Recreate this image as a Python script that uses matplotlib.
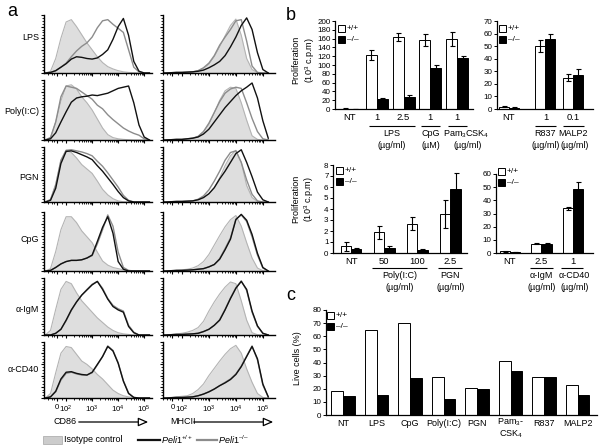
import numpy as np
import matplotlib
matplotlib.use('Agg')
import matplotlib.pyplot as plt
from matplotlib.patches import Rectangle, FancyArrowPatch
from matplotlib.lines import Line2D
from matplotlib.transforms import offset_copy

plt.rcParams['font.family'] = ['Liberation Sans', 'DejaVu Sans']
plt.rcParams['mathtext.fontset'] = 'custom'
plt.rcParams['mathtext.rm'] = 'Liberation Sans'
plt.rcParams['mathtext.it'] = 'Liberation Sans:italic'
plt.rcParams['mathtext.bf'] = 'Liberation Sans:bold'

# ---------------- data: panel a (flow histograms, % of mode) ----------------
grid = [1.2, 1.4, 1.6, 1.8, 2.0, 2.2, 2.4, 2.6, 2.8, 3.0, 3.2, 3.4, 3.6, 3.8, 4.0, 4.2, 4.4, 4.6, 4.8, 5.0, 5.2]
stimuli = ['LPS', 'Poly(I:C)', 'PGN', 'CpG', 'α-IgM', 'α-CD40']

lps_cd86_iso = [0, 3, 25, 60, 88, 92, 80, 66, 52, 40, 28, 18, 11, 7, 4, 2, 1, 0.5, 0, 0, 0]
lps_cd86_wt = [0, 1, 4, 10, 16, 24, 28, 27, 25, 24, 26, 32, 40, 58, 80, 94, 65, 20, 3, 0, 0]
lps_cd86_ko = [0, 1, 4, 10, 17, 28, 38, 46, 52, 62, 78, 90, 92, 84, 77, 70, 40, 10, 2, 0, 0]
lps_mhc_iso = [0, 0, 0.5, 1, 1, 1.5, 2, 4, 8, 15, 28, 45, 64, 82, 93, 65, 25, 6, 1, 0, 0]
lps_mhc_wt = [0, 0, 0.5, 1, 1, 1.5, 2, 3, 5, 9, 14, 20, 30, 45, 62, 82, 95, 75, 35, 6, 0]
lps_mhc_ko = [0, 0, 0.5, 1, 1, 1.5, 2, 4, 9, 17, 30, 48, 62, 75, 90, 92, 55, 12, 1, 0, 0]

poly_cd86_iso = [0, 4, 30, 65, 90, 92, 85, 72, 62, 50, 35, 20, 9, 4, 2, 1, 0.5, 0, 0, 0, 0]
poly_cd86_wt = [0, 2, 12, 30, 47, 63, 70, 72, 73, 75, 74, 76, 78, 82, 86, 88, 90, 62, 25, 5, 0]
poly_cd86_ko = [0, 4, 30, 72, 90, 88, 86, 80, 74, 68, 58, 52, 42, 34, 27, 20, 15, 11, 8, 2, 0]
poly_mhc_iso = [0, 0, 0.5, 1, 1, 2, 3, 6, 14, 26, 45, 66, 82, 88, 86, 62, 33, 7, 1, 0, 0]
poly_mhc_wt = [0, 0, 0.5, 1, 1, 2, 3, 5, 10, 18, 30, 42, 54, 64, 74, 82, 88, 95, 70, 32, 3]
poly_mhc_ko = [0, 0, 0.5, 1, 1, 2, 3, 6, 14, 28, 46, 64, 78, 85, 88, 86, 62, 36, 14, 2, 0]

pgn_cd86_iso = [0, 5, 33, 75, 94, 90, 80, 68, 60, 52, 38, 23, 13, 6, 2, 0.5, 0, 0, 0, 0, 0]
pgn_cd86_wt = [0, 3, 25, 70, 92, 93, 90, 86, 82, 77, 66, 56, 44, 32, 19, 8, 2, 0, 0, 0, 0]
pgn_cd86_ko = [0, 4, 30, 76, 94, 95, 93, 91, 88, 84, 74, 65, 53, 40, 27, 12, 3, 0, 0, 0, 0]
pgn_mhc_iso = [0, 0, 0.5, 1, 1, 1.5, 2, 4, 8, 15, 26, 44, 66, 84, 94, 72, 30, 8, 1, 0, 0]
pgn_mhc_wt = [0, 0, 0.5, 1, 1, 1.5, 2, 4, 8, 15, 26, 42, 56, 72, 88, 95, 72, 46, 18, 4, 0]
pgn_mhc_ko = [0, 0, 0.5, 1, 1, 1.5, 2, 5, 11, 22, 38, 56, 76, 90, 93, 72, 40, 14, 2, 0, 0]

cpg_cd86_iso = [0, 4, 33, 70, 92, 92, 82, 68, 58, 48, 32, 17, 10, 6, 4, 2, 0.5, 0, 0, 0, 0]
cpg_cd86_wt = [0, 1, 6, 12, 16, 18, 18, 19, 22, 27, 50, 74, 92, 64, 16, 3, 0, 0, 0, 0, 0]
cpg_cd86_ko = [0, 1, 6, 12, 16, 18, 18, 19, 22, 26, 46, 70, 95, 76, 32, 6, 1, 0, 0, 0, 0]
cpg_mhc_iso = [0, 0, 0.5, 1, 2, 3, 5, 9, 16, 28, 44, 60, 75, 87, 94, 76, 48, 22, 5, 0.5, 0]
cpg_mhc_wt = [0, 0, 0.5, 1, 1, 1.5, 2, 3, 4, 7, 11, 20, 36, 54, 87, 96, 86, 62, 30, 6, 0]
cpg_mhc_ko = [0, 0, 0.5, 1, 1, 1.5, 2, 3, 4, 7, 11, 21, 38, 56, 88, 95, 84, 58, 27, 5, 0]

igm_cd86_iso = [0, 8, 45, 80, 94, 90, 74, 60, 50, 40, 30, 22, 14, 8, 4, 2, 1, 0, 0, 0, 0]
igm_cd86_wt = [0, 0, 3, 10, 26, 44, 58, 70, 79, 88, 94, 80, 63, 50, 44, 40, 15, 4, 0, 0, 0]
igm_cd86_ko = [0, 0, 3, 10, 25, 43, 58, 70, 80, 89, 94, 82, 64, 52, 46, 42, 17, 5, 0, 0, 0]
igm_mhc_iso = [0, 0, 1, 2, 3, 5, 8, 13, 24, 42, 58, 72, 84, 93, 90, 60, 26, 4, 0.5, 0, 0]
igm_mhc_wt = [0, 0, 0.5, 1, 1, 1.5, 2, 3, 6, 10, 17, 26, 44, 64, 82, 94, 80, 42, 16, 3, 0]
igm_mhc_ko = [0, 0, 0.5, 1, 1, 1.5, 2, 3, 6, 10, 17, 27, 45, 65, 83, 95, 78, 40, 15, 3, 0]

cd40_cd86_iso = [0, 8, 45, 80, 92, 90, 78, 66, 60, 52, 42, 34, 24, 14, 8, 4, 2, 1, 0, 0, 0]
cd40_cd86_wt = [0, 2, 12, 34, 46, 47, 44, 42, 41, 46, 60, 74, 92, 84, 62, 30, 8, 1, 0, 0, 0]
cd40_cd86_ko = [0, 2, 11, 32, 44, 46, 43, 41, 41, 45, 59, 74, 93, 85, 63, 31, 9, 1, 0, 0, 0]
cd40_mhc_iso = [0, 0, 1, 2, 3, 4, 8, 15, 25, 40, 53, 66, 78, 88, 94, 80, 52, 28, 8, 1, 0]
cd40_mhc_wt = [0, 0, 0.5, 1, 1, 1.5, 2, 4, 7, 11, 16, 22, 27, 33, 42, 56, 74, 92, 70, 25, 2]
cd40_mhc_ko = [0, 0, 0.5, 1, 1, 1.5, 2, 4, 7, 11, 16, 22, 28, 34, 43, 57, 75, 93, 68, 23, 2]

# ---------------- data: panel b (proliferation) ----------------
b1_labels = ['NT', '1', '2.5', '1', '1']
b1_wt = [1.0, 123, 163, 157, 159]
b1_wt_err = [0.5, 12, 9, 14, 15]
b1_ko = [0.5, 23, 28, 93, 117]
b1_ko_err = [0.3, 2, 3, 7, 4]

b2_labels = ['NT', '1', '0.1']
b2_wt = [1.7, 50, 25]
b2_wt_err = [0.4, 5, 3]
b2_ko = [1.0, 56, 27]
b2_ko_err = [0.3, 4, 4.5]

b3_labels = ['NT', '50', '100', '2.5']
b3_wt = [0.6, 1.9, 2.65, 3.55]
b3_wt_err = [0.4, 0.6, 0.6, 1.3]
b3_ko = [0.4, 0.5, 0.3, 5.8]
b3_ko_err = [0.05, 0.1, 0.05, 1.45]

b4_labels = ['NT', '2.5', '1']
b4_wt = [1.3, 7.1, 33.8]
b4_wt_err = [0.4, 0.4, 1.5]
b4_ko = [0.8, 6.9, 48.3]
b4_ko_err = [0.2, 0.5, 5.5]

# ---------------- data: panel c (live cells) ----------------
c_labels = ['NT', 'LPS', 'CpG', 'Poly(I:C)', 'PGN', 'Pam$_3$-\nCSK$_4$', 'R837', 'MALP2']
c_wt = [18, 64.5, 70, 29, 20.5, 41.5, 29, 22.5]
c_ko = [14.7, 15, 28.5, 12, 19.5, 33.5, 29, 15]

# ---------------- figure ----------------
W, H = 600, 447
fig = plt.figure(figsize=(W / 100, H / 100), dpi=100)


def add_ax(x0, y0, x1, y1):
    return fig.add_axes([x0 / W, 1 - y1 / H, (x1 - x0) / W, (y1 - y0) / H])


def ftext(x, y, s, **kw):
    fig.text(x / W, 1 - y / H, s, **kw)


ISO_FILL = '#dedede'
ISO_EDGE = '#b4b4b4'
KO_COL = '#8c8c8c'
WT_COL = '#111111'

cd86_sets = [(lps_cd86_iso, lps_cd86_wt, lps_cd86_ko), (poly_cd86_iso, poly_cd86_wt, poly_cd86_ko),
             (pgn_cd86_iso, pgn_cd86_wt, pgn_cd86_ko), (cpg_cd86_iso, cpg_cd86_wt, cpg_cd86_ko),
             (igm_cd86_iso, igm_cd86_wt, igm_cd86_ko), (cd40_cd86_iso, cd40_cd86_wt, cd40_cd86_ko)]
mhc_sets = [(lps_mhc_iso, lps_mhc_wt, lps_mhc_ko), (poly_mhc_iso, poly_mhc_wt, poly_mhc_ko),
            (pgn_mhc_iso, pgn_mhc_wt, pgn_mhc_ko), (cpg_mhc_iso, cpg_mhc_wt, cpg_mhc_ko),
            (igm_mhc_iso, igm_mhc_wt, igm_mhc_ko), (cd40_mhc_iso, cd40_mhc_wt, cd40_mhc_ko)]

rows = [(15, 73), (80, 140), (147, 202), (212, 271), (278, 335), (342, 398)]
label_y = [38, 112, 178, 240, 309, 370]
minor_x = [np.log10(k * 10 ** n) for n in (2, 3, 4) for k in range(2, 10)] + [1.3, 1.45, 1.55, 1.85]
gx = np.array(grid)

for i, (top, bot) in enumerate(rows):
    cols = [(44, 152, (1.15, 5.3), cd86_sets[i]), (163, 275, (1.3, 5.45), mhc_sets[i])]
    for (x0, x1, xl, (iso, wt, ko)) in cols:
        ax = add_ax(x0, top, x1, bot)
        ax.fill_between(gx, iso, color=ISO_FILL, lw=0)
        ax.plot(gx, iso, color=ISO_EDGE, lw=0.8)
        ax.plot(gx, ko, color=KO_COL, lw=1.0)
        ax.plot(gx, wt, color=WT_COL, lw=1.0)
        ax.set_xlim(xl)
        ax.set_ylim(0, 100)
        for s in ('top', 'right'):
            ax.spines[s].set_visible(False)
        for s in ('left', 'bottom'):
            ax.spines[s].set_linewidth(1.0)
        ax.set_yticks(np.arange(0, 101, 20))
        ax.set_yticks(np.arange(0, 101, 5), minor=True)
        ax.set_yticklabels([])
        ax.set_xticks([1.65, 2, 3, 4, 5])
        ax.set_xticks(minor_x, minor=True)
        ax.tick_params(axis='both', which='major', length=2.5, width=0.8, direction='out', pad=1.5)
        ax.tick_params(axis='both', which='minor', length=1.3, width=0.6, direction='out')
        if i == 5:
            ax.set_xticklabels(['0', '$10^2$', '$10^3$', '$10^4$', '$10^5$'], fontsize=5.6)
        else:
            ax.set_xticklabels([])
    ftext(39, label_y[i], stimuli[i], ha='right', va='center', fontsize=6.5)

# axis titles with open arrows
ftext(53, 422, 'CD86', ha='left', va='center', fontsize=6.5)
ftext(170, 422, 'MHCII', ha='left', va='center', fontsize=6.5)
for xa, xb in [(76, 151), (191, 276)]:
    arr = FancyArrowPatch((xa / W, 1 - 422 / H), (xb / W, 1 - 422 / H), transform=fig.transFigure,
                          arrowstyle='-|>,head_length=6,head_width=2.6', mutation_scale=1,
                          fc='white', ec='black', lw=0.9)
    fig.add_artist(arr)

# bottom legend of panel a
fig.add_artist(Rectangle((43 / W, 1 - 444 / H), 19 / W, 8 / H, transform=fig.transFigure,
                         fc='#cccccc', ec='#b0b0b0', lw=0.6))
ftext(64, 440, 'Isotype control', ha='left', va='center', fontsize=6.5)
fig.add_artist(Line2D([138 / W, 160 / W], [1 - 440 / H] * 2, transform=fig.transFigure, color=WT_COL, lw=1.6))
ftext(161, 440, r'$\mathit{Peli1}^{\mathit{+/+}}$', ha='left', va='center', fontsize=6.5)
fig.add_artist(Line2D([197 / W, 217 / W], [1 - 440 / H] * 2, transform=fig.transFigure, color=KO_COL, lw=1.6))
ftext(218, 440, r'$\mathit{Peli1}^{\mathit{–/–}}$', ha='left', va='center', fontsize=6.5)

# panel letters
ftext(7, 12, 'a', ha='left', va='center', fontsize=13)
ftext(286, 15, 'b', ha='left', va='center', fontsize=13)
ftext(286, 296, 'c', ha='left', va='center', fontsize=13)


# ---------------- helpers for bar panels ----------------
def style_bar_ax(ax, yticks):
    for s in ('top', 'right'):
        ax.spines[s].set_visible(False)
    for s in ('left', 'bottom'):
        ax.spines[s].set_linewidth(0.9)
    ax.set_yticks(yticks)
    ax.set_yticklabels([str(v) for v in yticks], fontsize=5.8)
    ax.set_ylim(yticks[0], yticks[-1])
    ax.tick_params(axis='y', length=2.2, width=0.7, pad=1)
    ax.tick_params(axis='x', length=0)
    ax.set_xticks([])


def draw_bars(ax, pos, wt, wt_err, ko, ko_err, w):
    pos = np.asarray(pos, dtype=float)
    ax.bar(pos - w / 2, wt, w, color='white', edgecolor='black', lw=0.7, zorder=2)
    ax.bar(pos + w / 2, ko, w, color='black', edgecolor='black', lw=0.7, zorder=2)
    if wt_err is not None:
        ax.errorbar(pos - w / 2, wt, yerr=wt_err, fmt='none', ecolor='black', elinewidth=0.8,
                    capsize=1.8, capthick=0.8, zorder=3)
        ax.errorbar(pos + w / 2, ko, yerr=ko_err, fmt='none', ecolor='black', elinewidth=0.8,
                    capsize=1.8, capthick=0.8, zorder=3)


def under(ax, x, dy, s, fs=6.5, **kw):
    tr = offset_copy(ax.get_xaxis_transform(), fig=fig, x=0, y=-dy, units='dots')
    ax.text(x, 0, s, transform=tr, ha='center', va='center', fontsize=fs, clip_on=False, **kw)


def uline(ax, x0, x1, dy):
    tr = offset_copy(ax.get_xaxis_transform(), fig=fig, x=0, y=-dy, units='dots')
    ax.plot([x0, x1], [0, 0], transform=tr, color='black', lw=0.8, clip_on=False, solid_capstyle='butt')


def small_legend(x, y):
    fig.add_artist(Rectangle((x / W, 1 - (y + 7) / H), 7 / W, 7 / H, transform=fig.transFigure,
                             fc='white', ec='black', lw=0.7))
    fig.add_artist(Rectangle((x / W, 1 - (y + 18) / H), 7 / W, 7 / H, transform=fig.transFigure,
                             fc='black', ec='black', lw=0.7))
    ftext(x + 9, y + 3.5, '+/+', ha='left', va='center', fontsize=6)
    ftext(x + 9, y + 14.5, '–/–', ha='left', va='center', fontsize=6)


# ---------------- panel b, top left ----------------
ax = add_ax(335, 21, 473, 109)
p1 = np.arange(len(b1_wt))
draw_bars(ax, p1, b1_wt, b1_wt_err, b1_ko, b1_ko_err, 0.41)
ax.set_xlim(-0.56, 4.59)
style_bar_ax(ax, list(range(0, 201, 20)))
for x, s in zip(p1, b1_labels):
    under(ax, x, 9, s, fs=6.8)
uline(ax, 0.72, 2.42, 17)
uline(ax, 2.65, 3.36, 17)
uline(ax, 3.65, 4.37, 17)
under(ax, 1.57, 25, 'LPS')
under(ax, 1.57, 37, '(µg/ml)')
under(ax, 3.0, 25, 'CpG')
under(ax, 3.0, 37, '(µM)')
under(ax, 4.35, 25, 'Pam$_3$CSK$_4$')
under(ax, 4.4, 37, '(µg/ml)')
small_legend(338, 25)

# ---------------- panel b, top right ----------------
ax = add_ax(497, 21, 593, 109)
p2 = np.array([0, 1.3, 2.3])
draw_bars(ax, p2, b2_wt, b2_wt_err, b2_ko, b2_ko_err, 0.36)
ax.set_xlim(-0.43, 3.0)
style_bar_ax(ax, list(range(0, 71, 10)))
for x, s in zip(p2, b2_labels):
    under(ax, x, 9, s, fs=6.8)
uline(ax, 0.93, 1.68, 17)
uline(ax, 1.93, 2.68, 17)
under(ax, 1.3, 25, 'R837')
under(ax, 1.3, 37, '(µg/ml)')
under(ax, 2.3, 25, 'MALP2')
under(ax, 2.33, 37, '(µg/ml)')
small_legend(499, 25)

ftext(296, 60, 'Proliferation', rotation=90, ha='center', va='center', fontsize=6.5)
ftext(310, 60, '(10$^3$ c.p.m)', rotation=90, ha='center', va='center', fontsize=6.5)

# ---------------- panel b, bottom left ----------------
ax = add_ax(333, 165, 467, 253)
p3 = np.arange(len(b3_wt))
draw_bars(ax, p3, b3_wt, b3_wt_err, b3_ko, b3_ko_err, 0.31)
ax.set_xlim(-0.55, 3.5)
style_bar_ax(ax, list(range(0, 9)))
for x, s in zip(p3, b3_labels):
    under(ax, x, 8, s, fs=6.8)
uline(ax, 0.64, 2.3, 15)
uline(ax, 2.62, 3.36, 15)
under(ax, 1.48, 22, 'Poly(I:C)')
under(ax, 1.48, 34, '(µg/ml)')
under(ax, 3.0, 22, 'PGN')
under(ax, 3.0, 34, '(µg/ml)')
small_legend(336, 167)

# ---------------- panel b, bottom right ----------------
ax = add_ax(496, 174, 593, 253)
p4 = np.arange(len(b4_wt))
draw_bars(ax, p4, b4_wt, b4_wt_err, b4_ko, b4_ko_err, 0.32)
ax.set_xlim(-0.44, 2.63)
style_bar_ax(ax, list(range(0, 61, 10)))
for x, s in zip(p4, b4_labels):
    under(ax, x, 8, s, fs=6.8)
uline(ax, 0.63, 1.37, 15)
uline(ax, 1.62, 2.32, 15)
under(ax, 1.0, 22, 'α-IgM')
under(ax, 2.05, 22, 'α-CD40')
under(ax, 1.0, 34, '(µg/ml)')
under(ax, 2.05, 34, '(µg/ml)')
small_legend(498, 168)

ftext(296, 199, 'Proliferation', rotation=90, ha='center', va='center', fontsize=6.5)
ftext(309, 199, '(10$^3$ c.p.m)', rotation=90, ha='center', va='center', fontsize=6.5)

# ---------------- panel c ----------------
ax = add_ax(326, 310, 597, 415)
pc = np.arange(len(c_wt))
draw_bars(ax, pc, c_wt, None, c_ko, None, 0.35)
ax.set_xlim(-0.51, 7.58)
style_bar_ax(ax, list(range(0, 81, 10)))
for x, s in zip(pc, c_labels):
    under(ax, x, 8 if '\n' not in s else 13, s, fs=6.5, linespacing=1.0)
small_legend(327, 312)
ftext(297, 358, 'Live cells (%)', rotation=90, ha='center', va='center', fontsize=6.5)

fig.savefig('out.png', dpi=100)
